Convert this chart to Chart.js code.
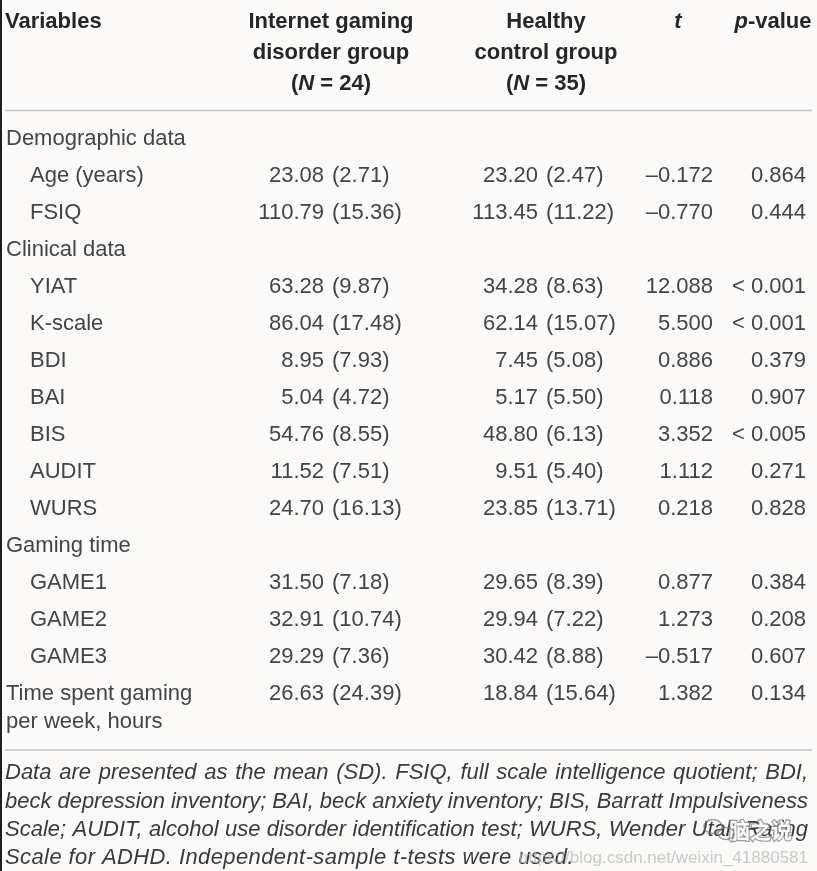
<!DOCTYPE html>
<html>
<head>
<meta charset="utf-8">
<script src="https://cdn.jsdelivr.net/npm/chart.js@4.4.0/dist/chart.umd.min.js"></script>
<style>
  html, body { margin: 0; padding: 0; background: #fbfaf8; }
  #wrap { width: 817px; height: 871px; position: relative; }
</style>
</head>
<body>
<div id="wrap"><canvas id="tableChart"></canvas></div>
<script>
// table rows (top to bottom)
const rowLabels = ['Demographic data', 'Age (years)', 'FSIQ', 'Clinical data', 'YIAT', 'K-scale', 'BDI', 'BAI', 'BIS',
  'AUDIT', 'WURS', 'Gaming time', 'GAME1', 'GAME2', 'GAME3', 'Time spent gaming\nper week, hours'];
const indented = [0, 1, 1, 0, 1, 1, 1, 1, 1, 1, 1, 0, 1, 1, 1, 0];

const igdMean = [null, 23.08, 110.79, null, 63.28, 86.04, 8.95, 5.04, 54.76, 11.52, 24.70, null, 31.50, 32.91, 29.29, 26.63];
const igdSD   = [null, 2.71, 15.36, null, 9.87, 17.48, 7.93, 4.72, 8.55, 7.51, 16.13, null, 7.18, 10.74, 7.36, 24.39];
const hcMean  = [null, 23.20, 113.45, null, 34.28, 62.14, 7.45, 5.17, 48.80, 9.51, 23.85, null, 29.65, 29.94, 30.42, 18.84];
const hcSD    = [null, 2.47, 11.22, null, 8.63, 15.07, 5.08, 5.50, 6.13, 5.40, 13.71, null, 8.39, 7.22, 8.88, 15.64];
const tValues = [null, -0.172, -0.770, null, 12.088, 5.500, 0.886, 0.118, 3.352, 1.112, 0.218, null, 0.877, 1.273, -0.517, 1.382];
const pValues = ['', '0.864', '0.444', '', '< 0.001', '< 0.001', '0.379', '0.907', '< 0.005', '0.271', '0.828', '', '0.384', '0.208', '0.607', '0.134'];

const igdN = 24;
const hcN = 35;

const footnote = [
  'Data are presented as the mean (SD). FSIQ, full scale intelligence quotient; BDI,',
  'beck depression inventory; BAI, beck anxiety inventory; BIS, Barratt Impulsiveness',
  'Scale; AUDIT, alcohol use disorder identification test; WURS, Wender Utah Rating',
  'Scale for ADHD. Independent-sample t-tests were used.'
];

// layout
const FONT = '"Liberation Sans", Arial, sans-serif';
const TXT = '#444444';
const HEAD = '#262626';
const colX = { label: 6, indent: 30, igdMean: 324, igdSD: 332, hcMean: 538, hcSD: 546, t: 713, p: 806 };

const dash = v => (v < 0 ? '\u2013' : '') + Math.abs(v).toFixed(3);
const fmt2 = v => v.toFixed(2);

function columnData(values, x) {
  const pts = [];
  values.forEach((v, i) => {
    if (v !== null && v !== '') pts.push({ x: x, y: i });
  });
  return pts;
}
function columnText(values, f) {
  return values.filter(v => v !== null && v !== '').map(f);
}

const datasets = [
  { label: 'Variables', data: rowLabels.map((l, i) => ({ x: indented[i] ? colX.indent : colX.label, y: i })),
    texts: rowLabels, align: 'left' },
  { label: 'IGD mean', data: columnData(igdMean, colX.igdMean), texts: columnText(igdMean, fmt2), align: 'right' },
  { label: 'IGD SD', data: columnData(igdSD, colX.igdSD), texts: columnText(igdSD, v => '(' + fmt2(v) + ')'), align: 'left' },
  { label: 'HC mean', data: columnData(hcMean, colX.hcMean), texts: columnText(hcMean, fmt2), align: 'right' },
  { label: 'HC SD', data: columnData(hcSD, colX.hcSD), texts: columnText(hcSD, v => '(' + fmt2(v) + ')'), align: 'left' },
  { label: 't', data: columnData(tValues, colX.t), texts: columnText(tValues, dash), align: 'right' },
  { label: 'p', data: columnData(pValues, colX.p), texts: columnText(pValues, v => v), align: 'right' }
].map(d => Object.assign(d, { pointRadius: 0, pointHoverRadius: 0 }));

function drawRuns(ctx, runs, x, y, align) {
  let total = 0;
  runs.forEach(r => { ctx.font = r.font; r.w = ctx.measureText(r.text).width; total += r.w; });
  let sx = align === 'center' ? x - total / 2 : align === 'right' ? x - total : x;
  ctx.textAlign = 'left';
  runs.forEach(r => { ctx.font = r.font; ctx.fillText(r.text, sx, y); sx += r.w; });
}

const tablePlugin = {
  id: 'tablePlugin',
  beforeDraw(chart) {
    const ctx = chart.ctx;
    ctx.save();
    ctx.fillStyle = '#fbfaf8';
    ctx.fillRect(0, 0, chart.width, chart.height);
    ctx.restore();
  },
  afterDatasetsDraw(chart) {
    const ctx = chart.ctx;
    const area = chart.chartArea;
    const rowH = chart.scales.y.getPixelForValue(1) - chart.scales.y.getPixelForValue(0);
    ctx.save();
    ctx.textBaseline = 'middle';

    // header
    const B = 'bold 22px ' + FONT, BI = 'italic bold 22px ' + FONT;
    const h1 = area.top - 99, h2 = h1 + 31, h3 = h2 + 31;
    ctx.fillStyle = HEAD;
    drawRuns(ctx, [{ text: 'Variables', font: B }], 5, h1, 'left');
    drawRuns(ctx, [{ text: 'Internet gaming', font: B }], 331, h1, 'center');
    drawRuns(ctx, [{ text: 'disorder group', font: B }], 331, h2, 'center');
    drawRuns(ctx, [{ text: '(', font: B }, { text: 'N', font: BI }, { text: ' = ' + igdN + ')', font: B }], 331, h3, 'center');
    drawRuns(ctx, [{ text: 'Healthy', font: B }], 546, h1, 'center');
    drawRuns(ctx, [{ text: 'control group', font: B }], 546, h2, 'center');
    drawRuns(ctx, [{ text: '(', font: B }, { text: 'N', font: BI }, { text: ' = ' + hcN + ')', font: B }], 546, h3, 'center');
    drawRuns(ctx, [{ text: 't', font: BI }], 678, h1, 'center');
    drawRuns(ctx, [{ text: 'p', font: BI }, { text: '-value', font: B }], 773, h1, 'center');

    // rules
    ctx.strokeStyle = '#c4c4c4';
    ctx.lineWidth = 1.5;
    ctx.beginPath();
    ctx.moveTo(5, area.top - 10); ctx.lineTo(812, area.top - 10);
    ctx.moveTo(5, area.bottom + 37.5); ctx.lineTo(812, area.bottom + 37.5);
    ctx.stroke();

    // cells
    ctx.fillStyle = TXT;
    ctx.font = '22px ' + FONT;
    chart.data.datasets.forEach((ds, di) => {
      const meta = chart.getDatasetMeta(di);
      ctx.textAlign = ds.align;
      meta.data.forEach((el, i) => {
        const lines = String(ds.texts[i]).split('\n');
        lines.forEach((ln, k) => ctx.fillText(ln, el.x, el.y + k * (rowH * 0.76)));
      });
    });

    // footnote, justified
    ctx.font = 'italic 22px ' + FONT;
    ctx.fillStyle = '#3a3a3a';
    ctx.textAlign = 'left';
    const fx0 = 5, fx1 = 808;
    footnote.forEach((line, li) => {
      const y = area.bottom + 60.5 + li * 28.4;
      const words = line.split(' ');
      if (li === footnote.length - 1) {
        ctx.letterSpacing = '0.4px';
        ctx.fillText(line, fx0, y);
        ctx.letterSpacing = '0px';
        return;
      }
      const ws = words.map(w => ctx.measureText(w).width);
      const sum = ws.reduce((a, b) => a + b, 0);
      const gap = (fx1 - fx0 - sum) / (words.length - 1);
      let x = fx0;
      words.forEach((w, k) => { ctx.fillText(w, x, y); x += ws[k] + gap; });
    });

    // watermark
    ctx.font = '17px ' + FONT;
    ctx.fillStyle = 'rgba(185,185,185,0.75)';
    ctx.textAlign = 'right';
    ctx.fillText('https://blog.csdn.net/weixin_41880581', 808, area.bottom + 146);
    ctx.font = 'bold 21px "Noto Sans CJK SC", sans-serif';
    ctx.lineWidth = 2.5;
    ctx.strokeStyle = 'rgba(120,120,120,0.7)';
    ctx.strokeText('脑之说', 792, area.bottom + 118);
    ctx.fillStyle = '#ffffff';
    ctx.fillText('脑之说', 792, area.bottom + 118);
    ctx.lineWidth = 1.5;
    ctx.beginPath();
    ctx.ellipse(713, area.bottom + 114, 9, 7, 0, 0, Math.PI * 2);
    ctx.moveTo(734, area.bottom + 121);
    ctx.ellipse(726, area.bottom + 121, 8, 6, 0, 0, Math.PI * 2);
    ctx.stroke();

    // left edge
    ctx.fillStyle = '#1e1e1e';
    ctx.fillRect(0, 0, 2, chart.height);
    ctx.restore();
  }
};

new Chart(document.getElementById('tableChart'), {
  type: 'scatter',
  data: { labels: rowLabels.map((_, i) => i), datasets: datasets },
  options: {
    responsive: true,
    maintainAspectRatio: false,
    animation: false,
    events: [],
    layout: { padding: { top: 120.5, bottom: 158.5, left: 0, right: 0 } },
    scales: {
      x: { type: 'linear', min: 0, max: 817, display: false },
      y: { type: 'category', labels: rowLabels.map((_, i) => i), offset: true, display: false }
    },
    plugins: { legend: { display: false }, tooltip: { enabled: false } }
  },
  plugins: [tablePlugin]
});
</script>
</body>
</html>
